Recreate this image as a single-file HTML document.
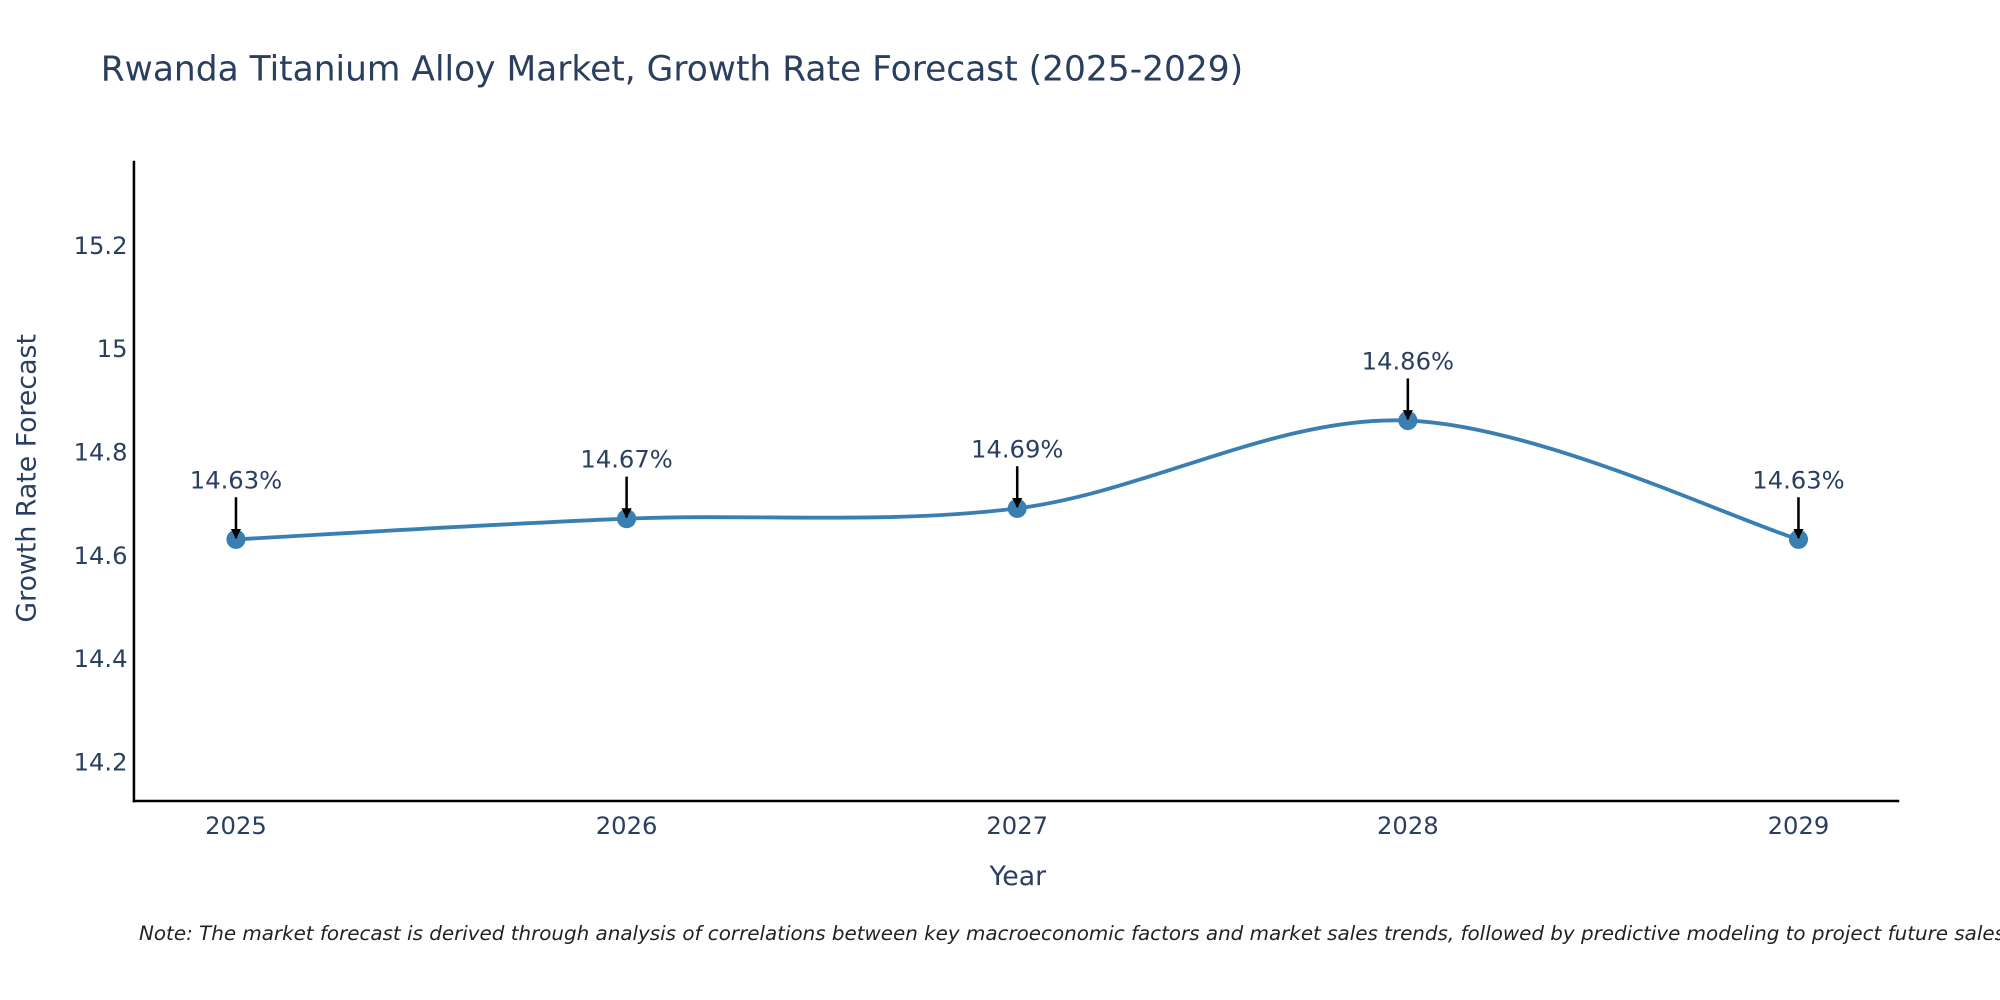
<!DOCTYPE html>
<html><head><meta charset="utf-8"><style>
html,body{margin:0;padding:0;background:#fff;}
svg{display:block;font-family:"DejaVu Sans","Liberation Sans",sans-serif;}
</style></head><body>
<svg id="chart" width="2000" height="1000" viewBox="0 0 1568 784" xmlns="http://www.w3.org/2000/svg">
<defs><marker id="ah" viewBox="0 0 10 10" refX="9" refY="5" markerWidth="4" markerHeight="4" orient="auto"><path d="M0,0 L10,5 L0,10 z" fill="#000"/></marker></defs>
<text x="79" y="63" font-size="27" fill="#2a3f5f">Rwanda Titanium Alloy Market, Growth Rate Forecast (2025-2029)</text>
<g id="yticks"></g><g id="xticks"></g>
<line x1="105" y1="126" x2="105" y2="629" stroke="#000" stroke-width="2"/>
<line x1="104" y1="628" x2="1489" y2="628" stroke="#000" stroke-width="2"/>
<path id="line" fill="none" stroke="#3a7fb2" stroke-width="3"/>
<g id="marks"></g>
<text x="798" y="694" font-size="21" fill="#2a3f5f" text-anchor="middle">Year</text>
<text transform="translate(28,375) rotate(-90)" font-size="21" fill="#2a3f5f" text-anchor="middle">Growth Rate Forecast</text>
<text x="109" y="737" font-size="15.6" font-style="italic" fill="#222">Note: The market forecast is derived through analysis of correlations between key macroeconomic factors and market sales trends, followed by predictive modeling to project future sales.</text>
</svg>
<script>
const years = [2025, 2026, 2027, 2028, 2029];
const values = [14.63, 14.67, 14.69, 14.86, 14.63];
const yTicks = [14.2, 14.4, 14.6, 14.8, 15, 15.2];
const NS = "http://www.w3.org/2000/svg";
const xs = y => 185 + (y - 2025) * 306.25;
const ys = v => 273 + (15 - v) * 405;
const yg = document.getElementById('yticks');
yTicks.forEach(t => {
  const el = document.createElementNS(NS, 'text');
  el.setAttribute('x', 100); el.setAttribute('y', ys(t) + 7);
  el.setAttribute('text-anchor', 'end'); el.setAttribute('font-size', '19'); el.setAttribute('fill', '#2a3f5f');
  
  
  el.textContent = String(t); yg.appendChild(el);
});
const xg = document.getElementById('xticks');
years.forEach(y => {
  const el = document.createElementNS(NS, 'text');
  el.setAttribute('x', xs(y)); el.setAttribute('y', 654);
  el.setAttribute('text-anchor', 'middle'); el.setAttribute('font-size', '19'); el.setAttribute('fill', '#2a3f5f');
  
  
  el.textContent = String(y); xg.appendChild(el);
});
const pts = years.map((y, i) => [xs(y), ys(values[i])]);
let d = `M${pts[0][0]},${pts[0][1]}`;
for (let i = 0; i < pts.length - 1; i++) {
  const p0 = pts[Math.max(0, i - 1)], p1 = pts[i], p2 = pts[i + 1], p3 = pts[Math.min(pts.length - 1, i + 2)];
  const k = 1 / 6;
  const c1 = [p1[0] + (p2[0] - p0[0]) * k, p1[1] + (p2[1] - p0[1]) * k];
  const c2 = [p2[0] - (p3[0] - p1[0]) * k, p2[1] - (p3[1] - p1[1]) * k];
  d += ` C${c1[0]},${c1[1]} ${c2[0]},${c2[1]} ${p2[0]},${p2[1]}`;
}
document.getElementById('line').setAttribute('d', d);
const mg = document.getElementById('marks');
pts.forEach((p, i) => {
  const c = document.createElementNS(NS, 'circle');
  c.setAttribute('cx', p[0]); c.setAttribute('cy', p[1]); c.setAttribute('r', 7.5); c.setAttribute('fill', '#3a7fb2');
  
  
  mg.appendChild(c);
  const a = document.createElementNS(NS, 'line');
  a.setAttribute('x1', p[0]); a.setAttribute('y1', p[1] - 33); a.setAttribute('x2', p[0]); a.setAttribute('y2', p[1] - 1);
  a.setAttribute('stroke', '#000'); a.setAttribute('stroke-width', '2'); a.setAttribute('marker-end', 'url(#ah)');
  
  
  mg.appendChild(a);
  const t = document.createElementNS(NS, 'text');
  t.setAttribute('x', p[0]); t.setAttribute('y', p[1] - 40);
  t.setAttribute('text-anchor', 'middle'); t.setAttribute('font-size', '19'); t.setAttribute('fill', '#2a3f5f');
  
  
  t.textContent = values[i].toFixed(2) + '%'; mg.appendChild(t);
});
</script>
</body></html>
